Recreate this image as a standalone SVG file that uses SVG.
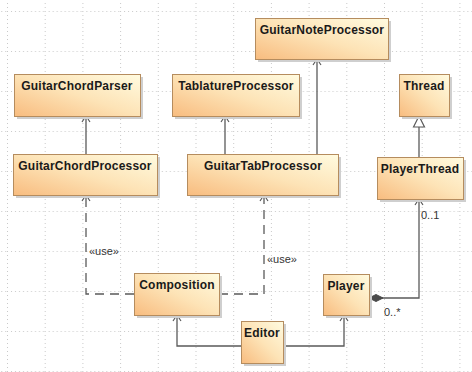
<svg xmlns="http://www.w3.org/2000/svg" width="472" height="372" viewBox="0 0 472 372">
<style>
.box{fill:url(#g);stroke:#b58c5e;stroke-width:1}
.sh{fill:#cfcfcf}
.t{font-family:"Liberation Sans",Arial,sans-serif;font-weight:bold;font-size:12px;fill:#1a1a1a;text-anchor:middle;letter-spacing:0.2px}
.c{fill:none;stroke:#5a5a5a;stroke-width:1.3}
.d{stroke-dasharray:9,6}
.l{font-family:"Liberation Sans",Arial,sans-serif;font-size:11px;fill:#333}
</style>
<defs>
<linearGradient id="g" x1="0" y1="1" x2="1" y2="0">
<stop offset="0" stop-color="#f8bc7f"/>
<stop offset="0.5" stop-color="#fde3b6"/>
<stop offset="1" stop-color="#fffbe0"/>
</linearGradient>
<pattern id="grid" patternUnits="userSpaceOnUse" x="7" y="11" width="37.7" height="40">
<path d="M0 0.5H37.7" stroke="#c9c9c9" stroke-width="1" stroke-dasharray="1,3"/>
<path d="M0.5 0V40" stroke="#c9c9c9" stroke-width="1" stroke-dasharray="1,3"/>
</pattern>
<marker id="a" markerWidth="10" markerHeight="10" refX="8" refY="5" orient="auto" markerUnits="userSpaceOnUse">
<path d="M2,1 L8,5 L2,9" fill="none" stroke="#5a5a5a" stroke-width="1.2"/>
</marker>
<marker id="tri" markerWidth="14" markerHeight="14" refX="12" refY="7" orient="auto" markerUnits="userSpaceOnUse">
<path d="M1,1.5 L12,7 L1,12.5 Z" fill="#fff" stroke="#5a5a5a" stroke-width="1.2"/>
</marker>
<marker id="dia" markerWidth="18" markerHeight="10" refX="1" refY="5" orient="auto" markerUnits="userSpaceOnUse">
<path d="M1,5 L8,1.5 L15,5 L8,8.5 Z" fill="#4a4a4a" stroke="#4a4a4a" stroke-width="1"/>
</marker>
</defs>
<rect width="472" height="372" fill="#fff"/>
<rect width="472" height="372" fill="url(#grid)"/>

<g id="connectors">
<path class="c" d="M86,154 V116" marker-end="url(#a)"/>
<path class="c" d="M225,154 V116" marker-end="url(#a)"/>
<path class="c" d="M317,154 V59" marker-end="url(#a)"/>
<path class="c" d="M419,157 V116" marker-end="url(#tri)"/>
<path class="c d" d="M134,294 H86 V195" marker-end="url(#a)"/>
<path class="c d" d="M219,294 H264 V195" marker-end="url(#a)"/>
<path class="c" d="M241,346 H177 V315" marker-end="url(#a)"/>
<path class="c" d="M283,346 H344 V315" marker-end="url(#a)"/>
<path class="c" d="M369,298 H419 V199" marker-start="url(#dia)" marker-end="url(#a)"/>
<text class="l" x="89" y="255">«use»</text>
<text class="l" x="267" y="263">«use»</text>
<text class="l" x="421" y="219">0..1</text>
<text class="l" x="384" y="316">0..*</text>
</g>

<g id="GuitarNoteProcessor">
<rect class="sh" x="258" y="21" width="133" height="41"/>
<rect class="box" x="255.5" y="18.5" width="133" height="41"/>
<text class="t" x="322" y="34">GuitarNoteProcessor</text>
</g>
<g id="GuitarChordParser">
<rect class="sh" x="17" y="77" width="126" height="42"/>
<rect class="box" x="14.5" y="74.5" width="126" height="42"/>
<text class="t" x="77" y="90">GuitarChordParser</text>
</g>
<g id="TablatureProcessor">
<rect class="sh" x="175" y="77" width="127" height="42"/>
<rect class="box" x="172.5" y="74.5" width="127" height="42"/>
<text class="t" x="236" y="90">TablatureProcessor</text>
</g>
<g id="Thread">
<rect class="sh" x="402" y="77" width="50" height="42"/>
<rect class="box" x="399.5" y="74.5" width="50" height="42"/>
<text class="t" x="424" y="90">Thread</text>
</g>
<g id="GuitarChordProcessor">
<rect class="sh" x="16" y="157" width="144" height="41"/>
<rect class="box" x="13.5" y="154.5" width="144" height="41"/>
<text class="t" x="85" y="170">GuitarChordProcessor</text>
</g>
<g id="GuitarTabProcessor">
<rect class="sh" x="190" y="157" width="151" height="41"/>
<rect class="box" x="187.5" y="154.5" width="151" height="41"/>
<text class="t" x="263" y="170">GuitarTabProcessor</text>
</g>
<g id="PlayerThread">
<rect class="sh" x="380" y="160" width="86" height="42"/>
<rect class="box" x="377.5" y="157.5" width="86" height="42"/>
<text class="t" x="420" y="173">PlayerThread</text>
</g>
<g id="Composition">
<rect class="sh" x="137" y="276" width="85" height="42"/>
<rect class="box" x="134.5" y="273.5" width="85" height="42"/>
<text class="t" x="177" y="289">Composition</text>
</g>
<g id="Player">
<rect class="sh" x="326" y="277" width="46" height="41"/>
<rect class="box" x="323.5" y="274.5" width="46" height="41"/>
<text class="t" x="346" y="290">Player</text>
</g>
<g id="Editor">
<rect class="sh" x="244" y="324" width="42" height="42"/>
<rect class="box" x="241.5" y="321.5" width="42" height="42"/>
<text class="t" x="262" y="337">Editor</text>
</g>
</svg>
